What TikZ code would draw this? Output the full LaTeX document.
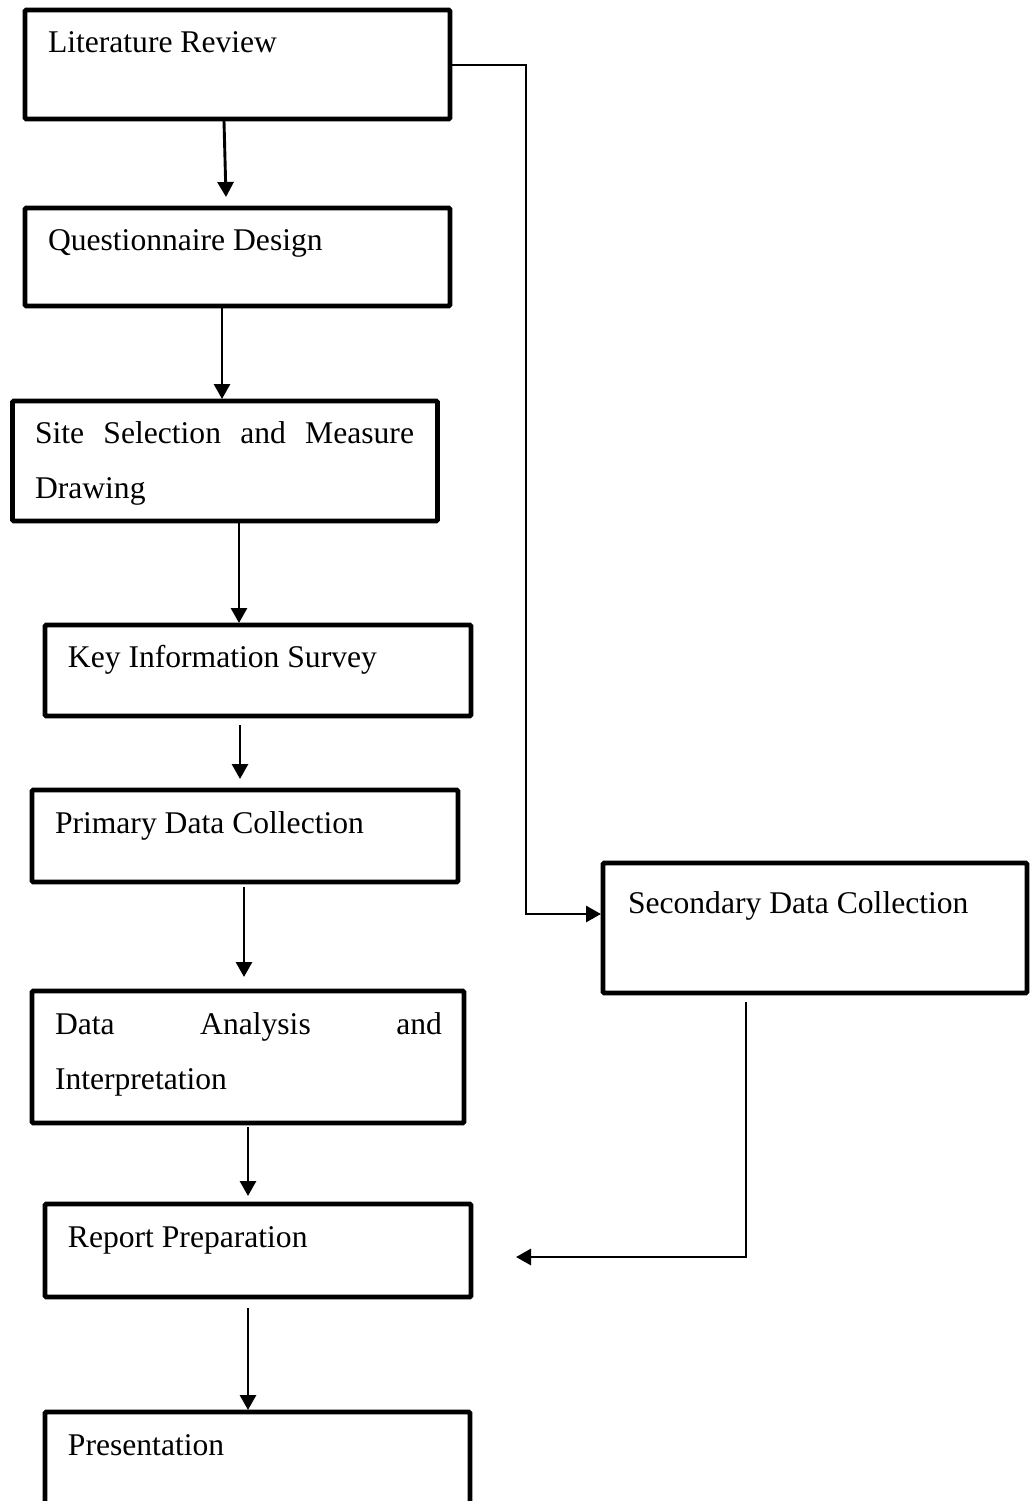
\documentclass[tikz,border=0pt]{standalone}
\usepackage{fontspec}
\setmainfont{Liberation Serif}
\usetikzlibrary{arrows.meta,calc}
\tikzset{
  flowbox/.style={draw, line width=2.4pt, anchor=north west, inner sep=0pt, outer sep=0pt, rounded corners=0.6pt},
  lbl/.style={anchor=base west, inner sep=0pt, outer sep=0pt, font=\fontsize{15.8}{27.5}\selectfont},
  arr/.style={line width=1.45pt, -{Triangle[length=7.5pt,width=8pt]}},
  link/.style={line width=1.45pt, line join=miter}
}
\begin{document}
\begin{tikzpicture}[x=0.5pt,y=-0.5pt]
\useasboundingbox (0,0) rectangle (1031,1501);
\clip (0,0) rectangle (1031,1501);
% boxes
\node[flowbox, minimum width=212.5pt, minimum height=54.5pt] (lit) at (25,10) {};
\node[flowbox, minimum width=212.5pt, minimum height=49pt] (q) at (25,208) {};
\node[flowbox, minimum width=212.5pt, minimum height=60pt] (site) at (12.5,401) {};
\node[flowbox, minimum width=213pt, minimum height=45.5pt] (key) at (45,625) {};
\node[flowbox, minimum width=213pt, minimum height=46pt] (prim) at (32,790) {};
\node[flowbox, minimum width=216pt, minimum height=66pt] (data) at (32,991) {};
\node[flowbox, minimum width=213pt, minimum height=46.5pt] (rep) at (45,1204) {};
\node[flowbox, minimum width=212.5pt, minimum height=55pt] (pres) at (45,1412) {};
\node[flowbox, minimum width=212pt, minimum height=65pt] (sec) at (603,863) {};
% texts
\node[lbl] (litT) at ($(lit.north west)+(23,42)$) {Literature Review};
\node[lbl] (qT) at ($(q.north west)+(23,42)$) {Questionnaire Design};
\node[lbl] (siteT) at ($(site.north west)+(22.5,42)$) {\parbox[t]{189.5pt}{\fontsize{15.8}{27.5}\selectfont\makebox[189.5pt][s]{Site Selection and Measure}\\Drawing}};
\node[lbl] (keyT) at ($(key.north west)+(23,42)$) {Key Information Survey};
\node[lbl] (primT) at ($(prim.north west)+(23,43)$) {Primary Data Collection};
\node[lbl] (dataT) at ($(data.north west)+(23,43)$) {\parbox[t]{193.5pt}{\fontsize{15.8}{27.5}\selectfont\makebox[193.5pt][s]{Data Analysis and}\\Interpretation}};
\node[lbl] (repT) at ($(rep.north west)+(23,43)$) {Report Preparation};
\node[lbl] (presT) at ($(pres.north west)+(23,43)$) {Presentation};
\node[lbl] (secT) at ($(sec.north west)+(25,50)$) {Secondary Data Collection};
% vertical arrows
\draw[arr] ($(lit.south west)+(199,2)$) -- ($(q.north west)+(201,-11)$);
\draw[arr] ($(q.south west)+(197,2)$) -- ($(site.north west)+(209.5,-2)$);
\draw[arr] ($(site.south west)+(226.5,2)$) -- ($(key.north west)+(194,-2)$);
\draw[arr] ($(key.south west)+(195,9)$) -- ($(prim.north west)+(208,-11)$);
\draw[arr] ($(prim.south west)+(212,5)$) -- ($(data.north west)+(212,-14)$);
\draw[arr] ($(data.south west)+(216,4)$) -- ($(rep.north west)+(203,-8)$);
\draw[arr] ($(rep.south west)+(203,11)$) -- ($(pres.north west)+(203,-2)$);
% side connectors
\draw[link, arr] ($(lit.north east)+(0,55)$) -- ++(76,0) |- ($(sec.north west)+(-2,51)$);
\draw[link, arr] ($(sec.south west)+(143,9)$) |- ($(rep.north east)+(45,53)$);
\end{tikzpicture}
\end{document}
